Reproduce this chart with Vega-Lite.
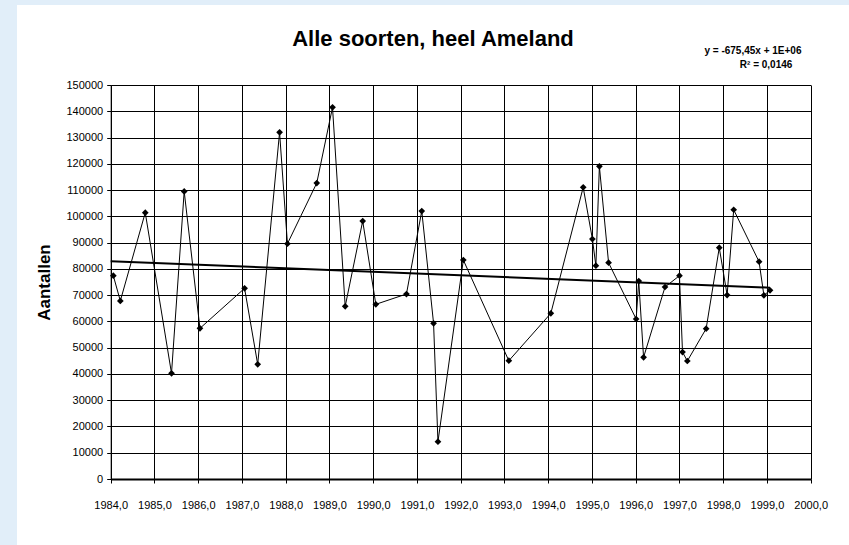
{
  "$schema": "https://vega.github.io/schema/vega-lite/v6.json",
  "width": 832,
  "height": 540,
  "autosize": {"type": "none"},
  "padding": {"left": 17, "top": 5, "right": 0, "bottom": 0},
  "background": "#E1EEF9",
  "config": {
    "view": {"stroke": null, "fill": "white"},
    "font": "Liberation Sans",
    "axis": {"labelFont": "Liberation Sans", "titleFont": "Liberation Sans", "labelColor": "black", "titleColor": "black"}
  },
  "title": {
    "text": "Alle soorten, heel Ameland",
    "font": "Liberation Sans",
    "fontSize": 22,
    "fontWeight": "bold",
    "color": "black",
    "anchor": "middle",
    "frame": "group",
    "baseline": "alphabetic",
    "offset": -63.4
  },
  "data": {
    "values": [
      {"jaar": 1984.06, "aantal": 77400},
      {"jaar": 1984.22, "aantal": 67800},
      {"jaar": 1984.79, "aantal": 101400},
      {"jaar": 1985.39, "aantal": 40240},
      {"jaar": 1985.68, "aantal": 109500},
      {"jaar": 1986.04, "aantal": 57360},
      {"jaar": 1987.06, "aantal": 72590},
      {"jaar": 1987.36, "aantal": 43660},
      {"jaar": 1987.86, "aantal": 131970},
      {"jaar": 1988.04, "aantal": 89570},
      {"jaar": 1988.71, "aantal": 112680},
      {"jaar": 1989.07, "aantal": 141490},
      {"jaar": 1989.36, "aantal": 65740},
      {"jaar": 1989.76, "aantal": 98210},
      {"jaar": 1990.06, "aantal": 66500},
      {"jaar": 1990.76, "aantal": 70420},
      {"jaar": 1991.11, "aantal": 102020},
      {"jaar": 1991.38, "aantal": 59270},
      {"jaar": 1991.48, "aantal": 14200},
      {"jaar": 1992.06, "aantal": 83370},
      {"jaar": 1993.10, "aantal": 45030},
      {"jaar": 1994.06, "aantal": 63070},
      {"jaar": 1994.80, "aantal": 111040},
      {"jaar": 1995.01, "aantal": 91360},
      {"jaar": 1995.09, "aantal": 81200},
      {"jaar": 1995.17, "aantal": 119030},
      {"jaar": 1995.38, "aantal": 82340},
      {"jaar": 1996.01, "aantal": 60910},
      {"jaar": 1996.07, "aantal": 75370},
      {"jaar": 1996.18, "aantal": 46320},
      {"jaar": 1996.67, "aantal": 73090},
      {"jaar": 1997.00, "aantal": 77390},
      {"jaar": 1997.07, "aantal": 48340},
      {"jaar": 1997.18, "aantal": 44920},
      {"jaar": 1997.61, "aantal": 57220},
      {"jaar": 1997.91, "aantal": 88050},
      {"jaar": 1998.09, "aantal": 70040},
      {"jaar": 1998.24, "aantal": 102510},
      {"jaar": 1998.82, "aantal": 82720},
      {"jaar": 1998.93, "aantal": 69930},
      {"jaar": 1999.07, "aantal": 71830}
    ]
  },
  "resolve": {"axis": {"x": "independent", "y": "independent"}},
  "layer": [
    {
      "mark": {
        "type": "line",
        "color": "black",
        "strokeWidth": 1,
        "point": {"shape": "diamond", "size": 45, "filled": true, "color": "black", "opacity": 1}
      },
      "encoding": {
        "x": {
          "field": "jaar",
          "type": "quantitative",
          "scale": {"domain": [1984, 2000], "range": [93.7, 793.7], "nice": false, "zero": false},
          "axis": {
            "orient": "bottom",
            "offset": -66,
            "values": [1984, 1985, 1986, 1987, 1988, 1989, 1990, 1991, 1992, 1993, 1994, 1995, 1996, 1997, 1998, 1999, 2000],
            "labelExpr": "replace(format(datum.value, '.1f'), '.', ',')",
            "labelFontSize": 11,
            "labelPadding": 16,
            "labelFlush": false,
            "labelOverlap": false,
            "grid": false,
            "tickSize": 4,
            "tickColor": "black",
            "domainColor": "black",
            "domainWidth": 2,
            "title": null
          }
        },
        "y": {
          "field": "aantal",
          "type": "quantitative",
          "scale": {"domain": [0, 150000], "range": [474, 80], "nice": false, "zero": true},
          "axis": {
            "orient": "left",
            "offset": -93.7,
            "values": [0, 10000, 20000, 30000, 40000, 50000, 60000, 70000, 80000, 90000, 100000, 110000, 120000, 130000, 140000, 150000],
            "format": "d",
            "labelFontSize": 11,
            "labelPadding": 4,
            "labelOverlap": false,
            "labelFlush": false,
            "grid": true,
            "gridColor": "black",
            "gridOpacity": 1,
            "gridWidth": 1,
            "tickSize": 4,
            "tickColor": "black",
            "domainColor": "black",
            "title": "Aantallen",
            "titleFontSize": 17,
            "titleFontWeight": "bold",
            "titleX": -66.7,
            "titleY": 277,
            "titleAngle": 270,
            "titleAlign": "center",
            "titleBaseline": "middle"
          }
        }
      }
    },
    {
      "transform": [{"regression": "aantal", "on": "jaar", "extent": [1984, 1999.07]}],
      "mark": {"type": "line", "color": "black", "strokeWidth": 2},
      "encoding": {
        "x": {
          "field": "jaar",
          "type": "quantitative",
          "axis": {
            "orient": "top",
            "values": [1984, 1985, 1986, 1987, 1988, 1989, 1990, 1991, 1992, 1993, 1994, 1995, 1996, 1997, 1998, 1999, 2000],
            "grid": true,
            "gridColor": "black",
            "gridOpacity": 1,
            "gridWidth": 1,
            "labels": false,
            "ticks": false,
            "domain": false,
            "title": null
          }
        },
        "y": {"field": "aantal", "type": "quantitative", "axis": null}
      }
    },
    {
      "data": {"values": [{}]},
      "mark": {"type": "text", "font": "Liberation Sans", "fontSize": 10, "fontWeight": "bold", "color": "black", "align": "center", "baseline": "alphabetic"},
      "encoding": {
        "x": {"datum": 1998.68, "type": "quantitative", "axis": null},
        "y": {"datum": 161670, "type": "quantitative", "axis": null},
        "text": {"value": "y = -675,45x + 1E+06"}
      }
    },
    {
      "data": {"values": [{}]},
      "mark": {"type": "text", "font": "Liberation Sans", "fontSize": 10, "fontWeight": "bold", "color": "black", "align": "center", "baseline": "alphabetic"},
      "encoding": {
        "x": {"datum": 1998.98, "type": "quantitative", "axis": null},
        "y": {"datum": 156340, "type": "quantitative", "axis": null},
        "text": {"value": "R² = 0,0146"}
      }
    }
  ]
}
